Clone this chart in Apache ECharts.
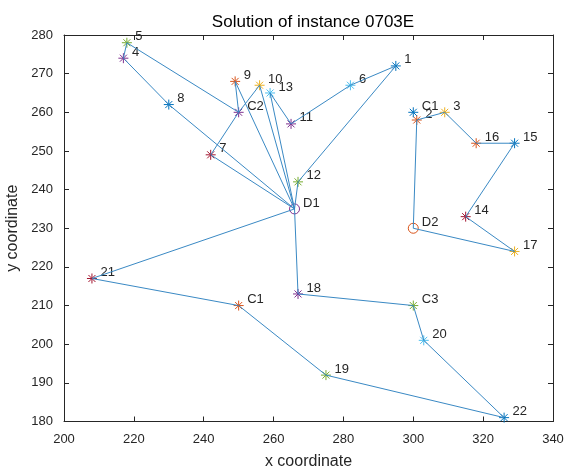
<!DOCTYPE html>
<html>
<head>
<meta charset="utf-8">
<script src="https://cdn.jsdelivr.net/npm/echarts@6/dist/echarts.min.js"></script>
<style>html,body{margin:0;padding:0;background:#fff;}#c{width:565px;height:469px;}</style>
</head>
<body>
<div id="c"></div>
<script>
// Customers 1..22
const customerNames = ['1','2','3','4','5','6','7','8','9','10','11','12','13','14','15','16','17','18','19','20','21','22'];
const customerX = [295, 301, 309, 217, 218, 282, 242, 230, 249, 256, 265, 267, 259, 315, 329, 318, 329, 267, 275, 303, 208, 326];
const customerY = [272, 258, 260, 274, 278, 267, 249, 262, 268, 267, 257, 242, 265, 233, 252, 252, 224, 213, 192, 201, 217, 181];
// Charging stations
const stationIds = ['C1a', 'C2', 'C1b', 'C3'];
const stationNames = ['C1', 'C2', 'C1', 'C3'];
const stationX = [300, 250, 250, 300];
const stationY = [260, 260, 210, 210];
// Depots
const depotNames = ['D1', 'D2'];
const depotX = [266, 300];
const depotY = [235, 230];
// Routes (sequence of node ids)
const route1 = ['D1', '8', '4', '5', 'C2', '9', 'D1'];
const route2 = ['D1', '7', 'C2', '10', 'D1'];
const route3 = ['D1', '13', '11', '6', '1', '12', 'D1'];
const route4 = ['D1', '21', 'C1b', '19', '22', '20', 'C3', '18', 'D1'];
const route5 = ['D2', '2', '3', '16', '15', '14', '17', 'D2'];
const routes = [route1, route2, route3, route4, route5];
// Axis ticks
const xTicks = [200, 220, 240, 260, 280, 300, 320, 340];
const yTicks = [180, 190, 200, 210, 220, 230, 240, 250, 260, 270, 280];

// styles
const palette = ['#0072BD', '#D95319', '#EDB120', '#7E2F8E', '#77AC30', '#4DBEEE', '#A2142F'];
const stationColors = ['#0072BD', '#7E2F8E', '#D95319', '#77AC30'];
const depotColors = ['#7E2F8E', '#D95319'];
const textColor = '#262626';
const fontFam = 'Liberation Sans, Arial, sans-serif';
const asterisk = 'path://M-1,0L1,0M0,-1L0,1M-0.7,-0.7L0.7,0.7M-0.7,0.7L0.7,-0.7';

const coords = {};
customerNames.forEach((n, i) => coords[n] = [customerX[i], customerY[i]]);
stationIds.forEach((n, i) => coords[n] = [stationX[i], stationY[i]]);
depotNames.forEach((n, i) => coords[n] = [depotX[i], depotY[i]]);

const labelStyle = (txt) => ({
  show: true, formatter: txt, position: 'right', distance: 3, offset: [0, -6],
  color: textColor, fontSize: 13, fontFamily: fontFam
});

const series = [];
routes.forEach(r => {
  series.push({
    type: 'line', data: r.map(n => coords[n]), symbol: 'none', silent: true,
    lineStyle: { color: '#3a89c4', width: 1 }, z: 3, animation: false
  });
});
function markerSeries(pt, txt, color, symbol) {
  series.push({
    type: 'scatter', data: [pt], symbol: symbol, symbolSize: 10, silent: true,
    itemStyle: { color: 'rgba(0,0,0,0)', borderColor: color, borderWidth: 1, opacity: 1 },
    label: labelStyle(txt), z: 2, animation: false
  });
}
customerNames.forEach((n, i) => markerSeries(coords[n], n, palette[i % 7], asterisk));
stationIds.forEach((n, i) => markerSeries(coords[n], stationNames[i], stationColors[i], asterisk));
depotNames.forEach((n, i) => markerSeries(coords[n], n, depotColors[i], 'circle'));

const axisCommon = {
  type: 'value',
  axisLine: { show: true, onZero: false, lineStyle: { color: textColor, width: 1 } },
  axisTick: { show: true, inside: true, length: 5, lineStyle: { color: textColor } },
  splitLine: { show: false }
};

const chart = echarts.init(document.getElementById('c'), null, { renderer: 'canvas' });
chart.setOption({
  backgroundColor: '#ffffff',
  animation: false,
  title: {
    text: 'Solution of instance 0703E', left: 308, top: 9, textAlign: 'center',
    textStyle: { color: '#000', fontSize: 17, fontWeight: 'normal', fontFamily: fontFam }
  },
  grid: { left: 64, right: 12, top: 35, bottom: 47.5, containLabel: false, outerBoundsMode: 'none' },
  xAxis: [
    Object.assign({}, axisCommon, {
      position: 'bottom', min: xTicks[0], max: xTicks[xTicks.length - 1], interval: xTicks[1] - xTicks[0],
      axisLabel: { margin: 11, color: textColor, fontSize: 13, fontFamily: fontFam },
      name: 'x coordinate', nameLocation: 'middle', nameGap: 32,
      nameTextStyle: { color: textColor, fontSize: 16, fontFamily: fontFam }
    }),
    Object.assign({}, axisCommon, {
      position: 'top', min: xTicks[0], max: xTicks[xTicks.length - 1], interval: xTicks[1] - xTicks[0],
      axisLabel: { show: false }
    })
  ],
  yAxis: [
    Object.assign({}, axisCommon, {
      position: 'left', min: yTicks[0], max: yTicks[yTicks.length - 1], interval: yTicks[1] - yTicks[0],
      axisLabel: { margin: 11, color: textColor, fontSize: 13, fontFamily: fontFam },
      name: 'y coordinate', nameLocation: 'middle', nameGap: 39, nameRotate: 90,
      nameTextStyle: { color: textColor, fontSize: 16, fontFamily: fontFam }
    }),
    Object.assign({}, axisCommon, {
      position: 'right', min: yTicks[0], max: yTicks[yTicks.length - 1], interval: yTicks[1] - yTicks[0],
      axisLabel: { show: false }
    })
  ],
  series: series
});
</script>
</body>
</html>
